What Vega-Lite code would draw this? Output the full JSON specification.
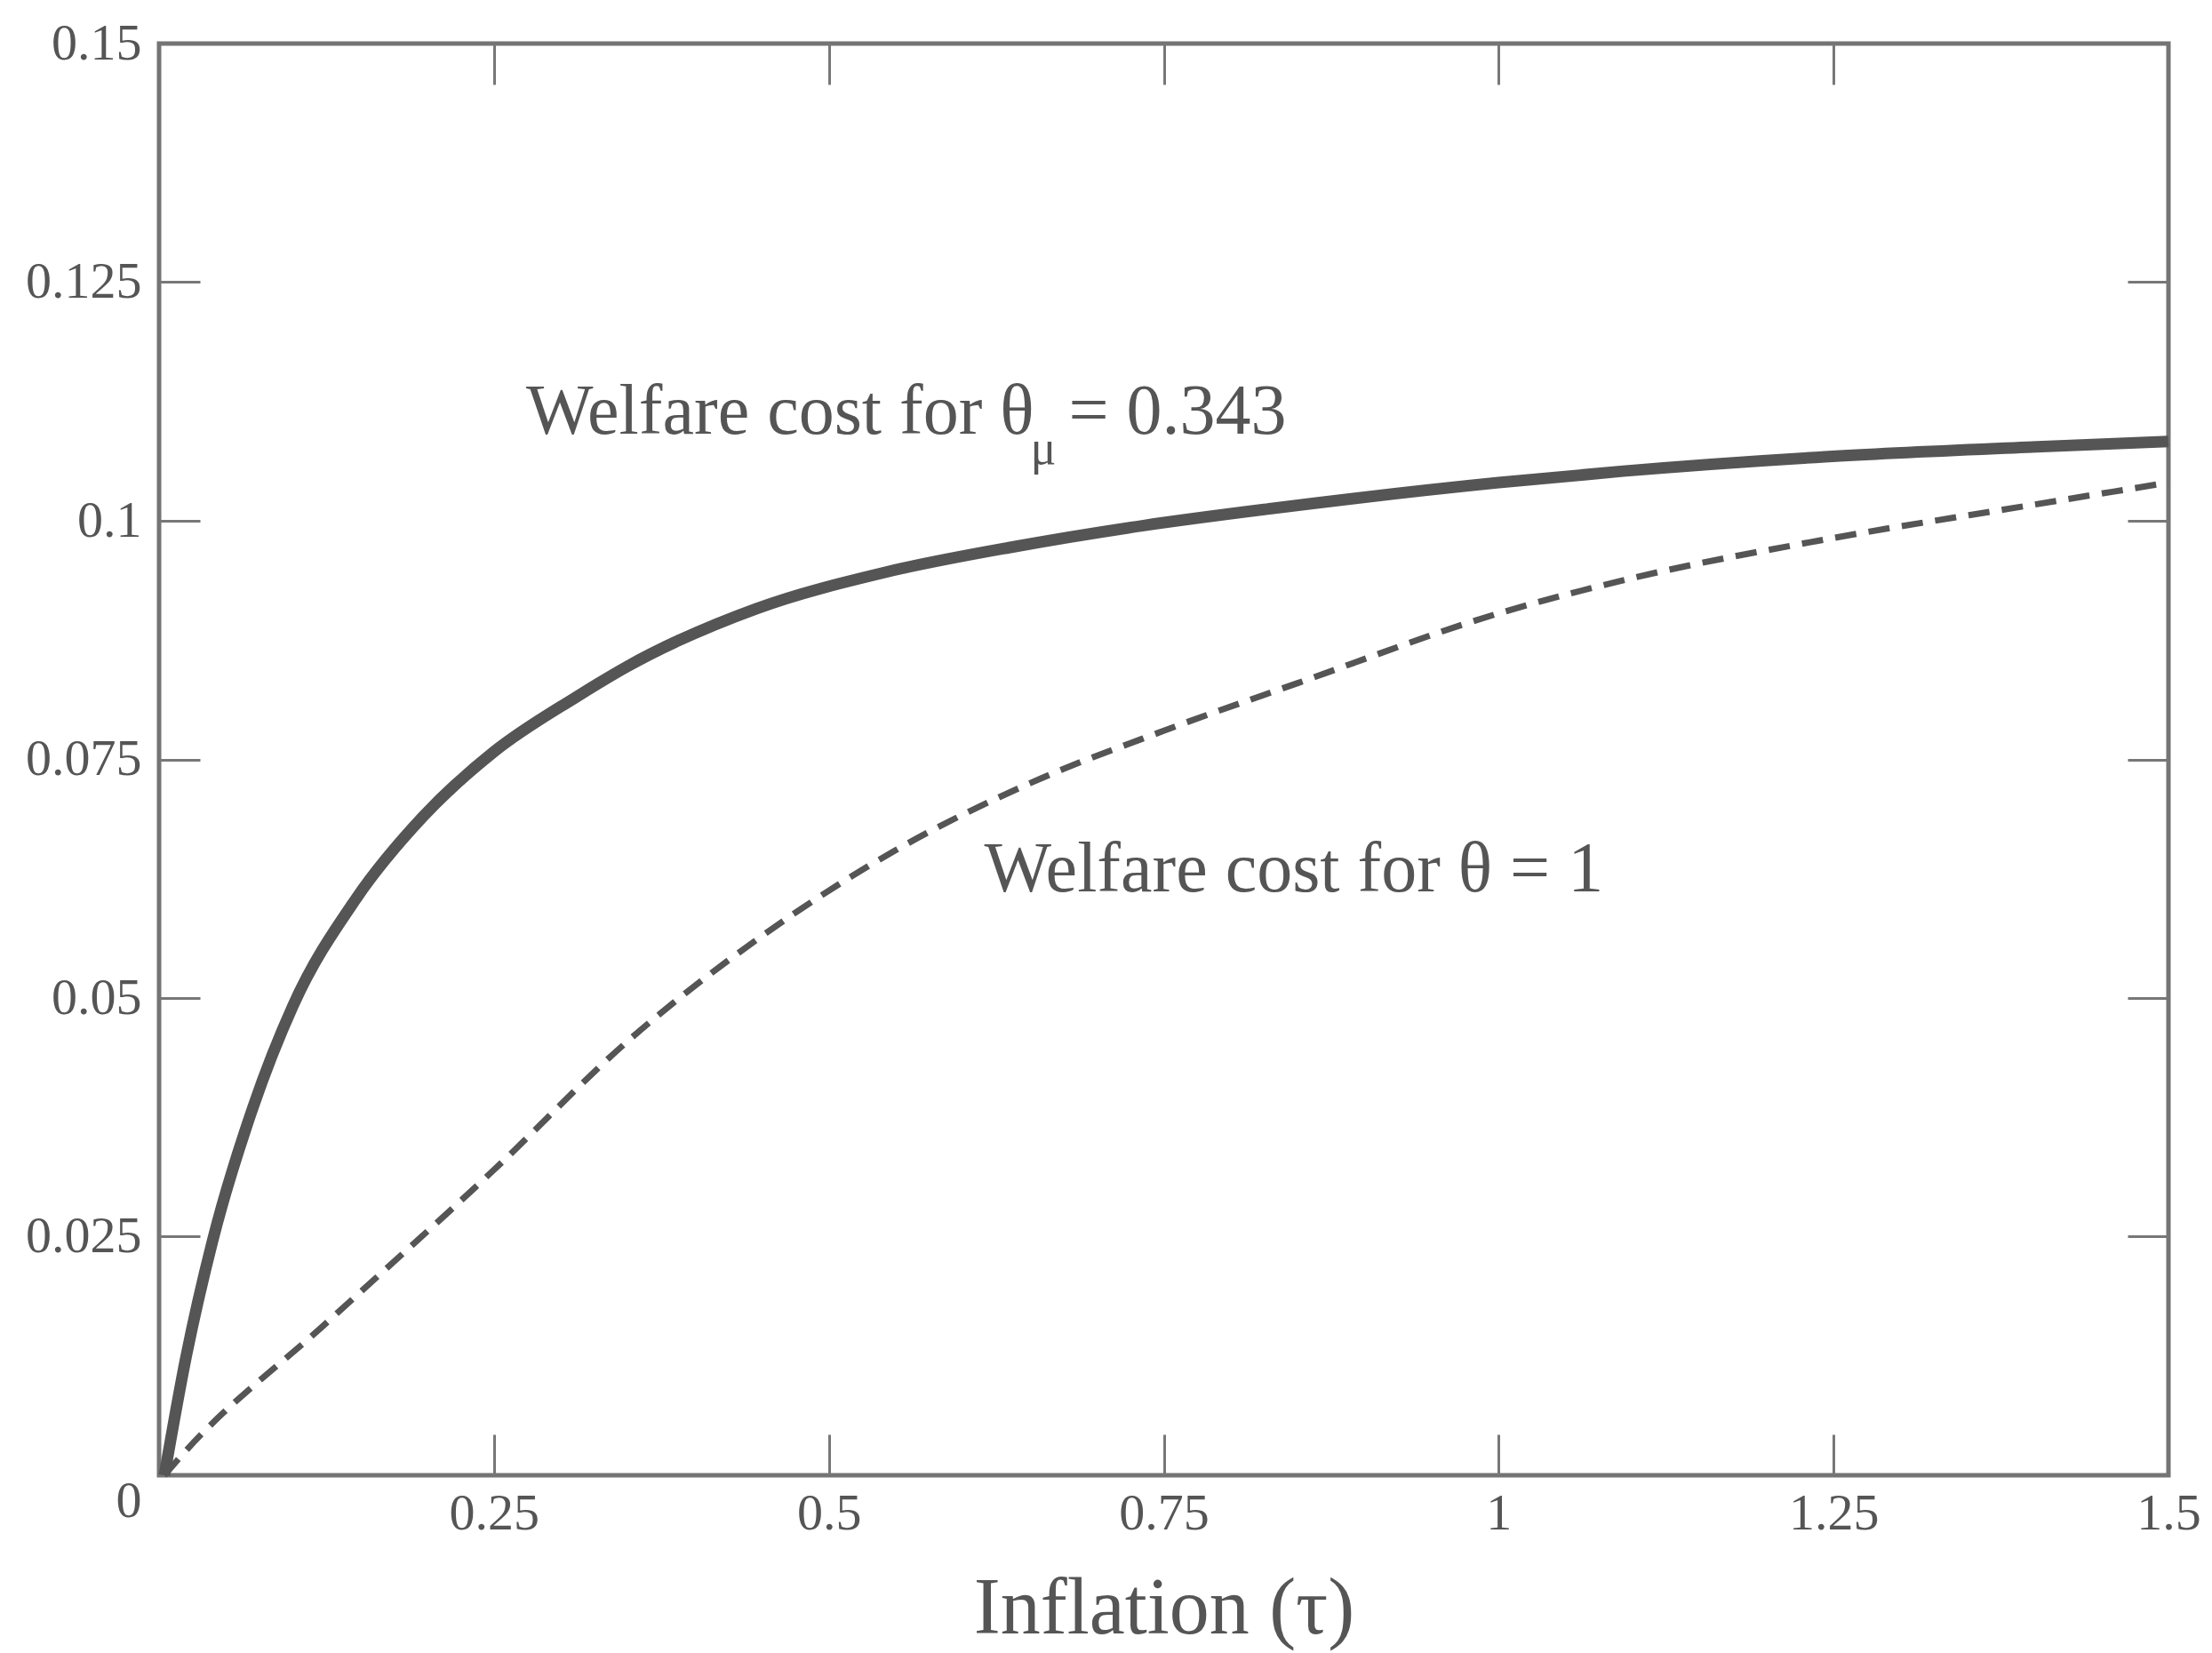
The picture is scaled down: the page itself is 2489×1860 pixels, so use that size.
{
  "$schema": "https://vega.github.io/schema/vega-lite/v6.json",
  "width": 2261,
  "height": 1611,
  "autosize": {"type": "none"},
  "padding": {"left": 179, "top": 49, "right": 49, "bottom": 200},
  "background": "white",
  "config": {
    "view": {"stroke": "#747474", "strokeWidth": 5},
    "axis": {
      "labelFont": "Liberation Serif",
      "titleFont": "Liberation Serif",
      "labelColor": "#555555",
      "titleColor": "#555555",
      "tickColor": "#777777",
      "grid": false,
      "domain": false
    }
  },
  "datasets": {
    "curves": [
      {"tau": 0.004, "cost": 0.0, "series": "theta_mu"},
      {"tau": 0.02, "cost": 0.0123, "series": "theta_mu"},
      {"tau": 0.04, "cost": 0.0246, "series": "theta_mu"},
      {"tau": 0.07, "cost": 0.0385, "series": "theta_mu"},
      {"tau": 0.1, "cost": 0.0492, "series": "theta_mu"},
      {"tau": 0.147, "cost": 0.0604, "series": "theta_mu"},
      {"tau": 0.197, "cost": 0.069, "series": "theta_mu"},
      {"tau": 0.25, "cost": 0.0758, "series": "theta_mu"},
      {"tau": 0.311, "cost": 0.0815, "series": "theta_mu"},
      {"tau": 0.349, "cost": 0.0847, "series": "theta_mu"},
      {"tau": 0.446, "cost": 0.0908, "series": "theta_mu"},
      {"tau": 0.542, "cost": 0.0946, "series": "theta_mu"},
      {"tau": 0.639, "cost": 0.0973, "series": "theta_mu"},
      {"tau": 0.735, "cost": 0.0995, "series": "theta_mu"},
      {"tau": 0.8316, "cost": 0.1013, "series": "theta_mu"},
      {"tau": 1.0, "cost": 0.104, "series": "theta_mu"},
      {"tau": 1.093, "cost": 0.1052, "series": "theta_mu"},
      {"tau": 1.2436, "cost": 0.1067, "series": "theta_mu"},
      {"tau": 1.394, "cost": 0.1077, "series": "theta_mu"},
      {"tau": 1.5, "cost": 0.1083, "series": "theta_mu"},
      {"tau": 0.004, "cost": 0.0, "series": "theta1"},
      {"tau": 0.017, "cost": 0.0021, "series": "theta1"},
      {"tau": 0.126, "cost": 0.0161, "series": "theta1"},
      {"tau": 0.25, "cost": 0.032, "series": "theta1"},
      {"tau": 0.35, "cost": 0.0455, "series": "theta1"},
      {"tau": 0.45, "cost": 0.0565, "series": "theta1"},
      {"tau": 0.55, "cost": 0.0655, "series": "theta1"},
      {"tau": 0.65, "cost": 0.0725, "series": "theta1"},
      {"tau": 0.75, "cost": 0.078, "series": "theta1"},
      {"tau": 0.85, "cost": 0.083, "series": "theta1"},
      {"tau": 1.0, "cost": 0.0903, "series": "theta1"},
      {"tau": 1.1, "cost": 0.094, "series": "theta1"},
      {"tau": 1.25, "cost": 0.0982, "series": "theta1"},
      {"tau": 1.4, "cost": 0.1017, "series": "theta1"},
      {"tau": 1.5, "cost": 0.104, "series": "theta1"}
    ],
    "labels": [
      {"tau": 0.274, "cost": 0.1091, "text": "Welfare cost for θ"},
      {"tau": 0.679, "cost": 0.1091, "text": "= 0.343"},
      {"tau": 0.616, "cost": 0.0612, "text": "Welfare cost for θ = 1"}
    ],
    "subs": [
      {"tau": 0.6505, "cost": 0.106, "text": "μ"}
    ]
  },
  "resolve": {"axis": {"x": "independent", "y": "independent"}},
  "layer": [
    {
      "data": {"name": "curves"},
      "transform": [{"filter": "datum.series === 'theta_mu'"}],
      "mark": {"type": "line", "color": "#555555", "strokeWidth": 13, "strokeCap": "butt", "strokeJoin": "round", "interpolate": "monotone"},
      "encoding": {
        "x": {
          "field": "tau", "type": "quantitative",
          "scale": {"domain": [0, 1.5], "nice": false, "zero": false},
          "axis": {
            "orient": "bottom",
            "values": [0, 0.25, 0.5, 0.75, 1, 1.25, 1.5],
            "labelExpr": "datum.value === 0 ? '' : '' + datum.value",
            "ticks": false,
            "labelFontSize": 58,
            "labelPadding": 14,
            "labelFlush": false,
            "labelOverlap": false,
            "labelBound": false,
            "title": "Inflation (τ)",
            "titleFontSize": 90,
            "titleFontWeight": "normal",
            "titlePadding": 34
          }
        },
        "y": {
          "field": "cost", "type": "quantitative",
          "scale": {"domain": [0, 0.15], "nice": false, "zero": false},
          "axis": {
            "orient": "left",
            "values": [0, 0.025, 0.05, 0.075, 0.1, 0.125, 0.15],
            "labelExpr": "'' + datum.value",
            "ticks": false,
            "labelFontSize": 58,
            "labelPadding": 20,
            "labelFlush": false,
            "labelOverlap": false,
            "labelBound": false,
            "labelBaseline": {"condition": {"test": "datum.value === 0", "value": "top"}, "value": "middle"},
            "title": null
          }
        }
      }
    },
    {
      "data": {"name": "curves"},
      "transform": [{"filter": "datum.series === 'theta1'"}],
      "mark": {"type": "line", "color": "#555555", "strokeWidth": 7, "strokeDash": [24, 14], "strokeCap": "butt", "interpolate": "monotone"},
      "encoding": {
        "x": {
          "field": "tau", "type": "quantitative",
          "axis": {"orient": "top", "values": [0.25, 0.5, 0.75, 1, 1.25], "labels": false, "ticks": true, "tickSize": -46, "tickWidth": 3, "title": null}
        },
        "y": {
          "field": "cost", "type": "quantitative",
          "axis": {"orient": "right", "values": [0.025, 0.05, 0.075, 0.1, 0.125], "labels": false, "ticks": true, "tickSize": -46, "tickWidth": 3, "title": null}
        }
      }
    },
    {
      "data": {"name": "labels"},
      "mark": {"type": "text", "font": "Liberation Serif", "fontSize": 80, "color": "#555555", "align": "left", "baseline": "alphabetic"},
      "encoding": {
        "x": {
          "field": "tau", "type": "quantitative",
          "axis": {"orient": "bottom", "values": [0.25, 0.5, 0.75, 1, 1.25], "labels": false, "ticks": true, "tickSize": -46, "tickWidth": 3, "title": null}
        },
        "y": {
          "field": "cost", "type": "quantitative",
          "axis": {"orient": "left", "values": [0.025, 0.05, 0.075, 0.1, 0.125], "labels": false, "ticks": true, "tickSize": -46, "tickWidth": 3, "title": null}
        },
        "text": {"field": "text"}
      }
    },
    {
      "data": {"name": "subs"},
      "mark": {"type": "text", "font": "Liberation Serif", "fontSize": 54, "color": "#555555", "align": "left", "baseline": "alphabetic"},
      "encoding": {
        "x": {"field": "tau", "type": "quantitative", "axis": null},
        "y": {"field": "cost", "type": "quantitative", "axis": null},
        "text": {"field": "text"}
      }
    }
  ]
}
